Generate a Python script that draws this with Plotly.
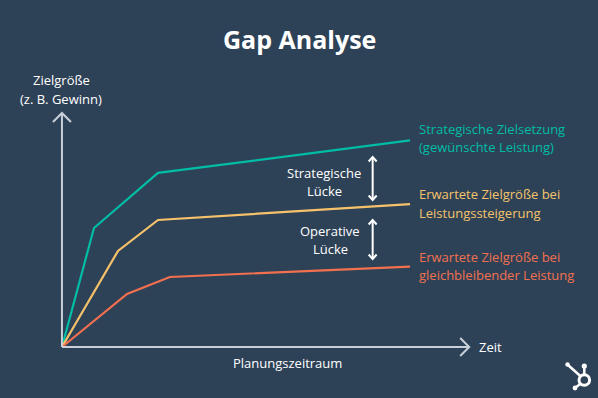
import plotly.graph_objects as go

# ---- data ----
series_names = ["Strategische Zielsetzung", "Leistungssteigerung", "Gleichbleibende Leistung"]
teal_x = [0, 0.92, 2.76, 10]
teal_y = [0, 5.76, 8.43, 10]
yellow_x = [0, 1.61, 2.76, 10]
yellow_y = [0, 4.65, 6.15, 6.92]
orange_x = [0, 1.87, 3.1, 10]
orange_y = [0, 2.57, 3.39, 3.89]

teal_label = ["Strategische Zielsetzung", "(gewünschte Leistung)"]
yellow_label = ["Erwartete Zielgröße bei", "Leistungssteigerung"]
orange_label = ["Erwartete Zielgröße bei", "gleichbleibender Leistung"]
gap1_label = ["Strategische", "Lücke"]
gap2_label = ["Operative", "Lücke"]

# ---- style ----
BG = "#2e4257"
TEAL = "#00bda5"
YELLOW = "#f5c26b"
ORANGE = "#f2704f"
AXIS = "#c8cfd8"
WHITE = "#ffffff"
FONT = "Open Sans"
FS = 13

W, H = 598, 398
X0, X1 = -1.78, 15.40
Y0, Y1 = -2.47, 16.80
PXX = W / (X1 - X0)   # pixels per x unit
PXY = H / (Y1 - Y0)   # pixels per y unit


def px(v):
    return v / PXX


def py(v):
    return v / PXY


def pp(xp, yp):
    """pixel -> paper"""
    return xp / W, 1 - yp / H


fig = go.Figure()
for xs, ys, c, n in [(teal_x, teal_y, TEAL, series_names[0]),
                     (yellow_x, yellow_y, YELLOW, series_names[1]),
                     (orange_x, orange_y, ORANGE, series_names[2])]:
    fig.add_trace(go.Scatter(x=xs, y=ys, mode="lines", name=n,
                             line=dict(color=c, width=2.2), hoverinfo="skip"))

shapes = []
# axes
y_tip = 11.33
x_tip = 11.7
shapes.append(dict(type="line", x0=0, y0=0, x1=0, y1=y_tip, line=dict(color=AXIS, width=2)))
shapes.append(dict(type="line", x0=0, y0=0, x1=x_tip, y1=0, line=dict(color=AXIS, width=2)))
# chevrons
shapes.append(dict(type="path",
                   path=f"M {-px(9)} {y_tip - py(9)} L 0 {y_tip} L {px(9)} {y_tip - py(9)}",
                   line=dict(color=AXIS, width=2)))
shapes.append(dict(type="path",
                   path=f"M {x_tip - px(9)} {py(9)} L {x_tip} 0 L {x_tip - px(9)} {-py(9)}",
                   line=dict(color=AXIS, width=2)))


def double_arrow(x, ytop, ybot):
    out = [dict(type="line", x0=x, x1=x, y0=ybot, y1=ytop, line=dict(color=WHITE, width=2))]
    out.append(dict(type="path",
                    path=f"M {x - px(4)} {ytop - py(4.5)} L {x} {ytop} L {x + px(4)} {ytop - py(4.5)}",
                    line=dict(color=WHITE, width=2)))
    out.append(dict(type="path",
                    path=f"M {x - px(4)} {ybot + py(4.5)} L {x} {ybot} L {x + px(4)} {ybot + py(4.5)}",
                    line=dict(color=WHITE, width=2)))
    return out


ax = (372.7 - 62) / PXX
shapes += double_arrow(ax, (347 - 157) / PXY, (347 - 200) / PXY)
shapes += double_arrow(ax, (347 - 220) / PXY, (347 - 259) / PXY)

# HubSpot logo (decoration, paper coords)
cx, cy = 584.3, 380.0
r = 5.3
ax0, ay0 = pp(cx - r, cy - r)
ax1, ay1 = pp(cx + r, cy + r)
shapes.append(dict(type="circle", xref="paper", yref="paper", x0=ax0, y0=ay1, x1=ax1, y1=ay0,
                   line=dict(color=WHITE, width=3)))
for (a, b, c2, d) in [(cx, cy - r, cx, 366.5), (cx - 4, cy + 4, 575.5, 387.5), (cx - 4, cy - 4, 568, 365)]:
    p0 = pp(a, b)
    p1 = pp(c2, d)
    shapes.append(dict(type="line", xref="paper", yref="paper", x0=p0[0], y0=p0[1], x1=p1[0], y1=p1[1],
                       line=dict(color=WHITE, width=2.5)))
for (nx, ny, nr) in [(584.3, 366, 2.6), (575, 388, 2.4), (567.5, 364.5, 2.2)]:
    q0 = pp(nx - nr, ny - nr)
    q1 = pp(nx + nr, ny + nr)
    shapes.append(dict(type="circle", xref="paper", yref="paper", x0=q0[0], y0=q1[1], x1=q1[0], y1=q0[1],
                       fillcolor=WHITE, line=dict(color=WHITE, width=0)))

annotations = []


def txt(text, xp, yp, color, size=FS, xanchor="center", bold=False):
    x, y = pp(xp, yp)
    t = f"<b>{text}</b>" if bold else text
    annotations.append(dict(text=t, x=x, y=y, xref="paper", yref="paper", showarrow=False,
                            xanchor=xanchor, yanchor="middle",
                            font=dict(family=FONT, size=size, color=color)))


txt("Gap Analyse", 299, 39, WHITE, size=25, bold=True)
txt("Zielgröße", 61, 80.5, WHITE)
txt("(z. B. Gewinn)", 61, 98.5, WHITE)
txt("Zeit", 477, 347, WHITE, xanchor="left")
txt("Planungszeitraum", 287, 363, WHITE)
for i, line in enumerate(teal_label):
    txt(line, 417, 128.5 + 18.4 * i, TEAL, xanchor="left")
for i, line in enumerate(yellow_label):
    txt(line, 417, 194.3 + 18.4 * i, YELLOW, xanchor="left")
for i, line in enumerate(orange_label):
    txt(line, 417, 256.7 + 18.4 * i, ORANGE, xanchor="left")
for i, line in enumerate(gap1_label):
    txt(line, 324, 173 + 18 * i, WHITE)
for i, line in enumerate(gap2_label):
    txt(line, 330, 231 + 18 * i, WHITE)

fig.update_layout(
    width=W, height=H,
    margin=dict(l=0, r=0, t=0, b=0),
    paper_bgcolor=BG, plot_bgcolor=BG,
    showlegend=False,
    xaxis=dict(range=[X0, X1], visible=False, fixedrange=True),
    yaxis=dict(range=[Y0, Y1], visible=False, fixedrange=True),
    shapes=shapes,
    annotations=annotations,
)

fig.write_html("out.html", config={"displayModeBar": False},
               post_script="document.body.style.margin='0';document.body.style.background='" + BG + "';")
